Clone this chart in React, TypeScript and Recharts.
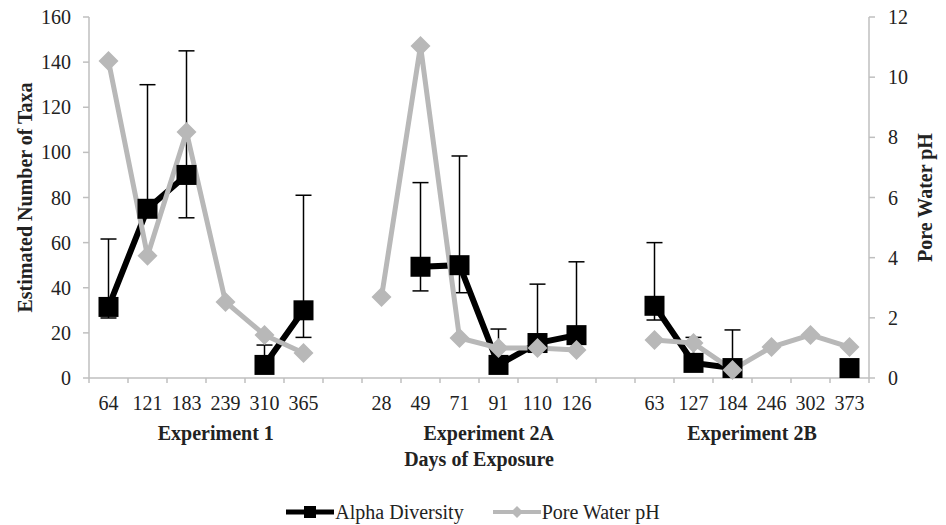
import { ComposedChart, Line, XAxis, YAxis, ErrorBar, Legend } from 'recharts';

// category labels (days of exposure); '' = spacer between experiments
const days = ['64', '121', '183', '239', '310', '365', '', '28', '49', '71', '91', '110', '126', '', '63', '127', '184', '246', '302', '373'];

// estimated number of taxa (left axis)
const alphaDiversity = [31.5, 75, 90, null, 5.8, 30, null, null, 49.3, 50, 5.8, 15.5, 19, null, 32, 6.7, 4.4, null, null, 4.4];
const alphaErrLow = [4.9, 3, 19, null, 3, 12, null, null, 10.7, 12.2, 3, 3, 3, null, 6.3, 3, 3, null, null, 0];
const alphaErrHigh = [30.1, 55, 55, null, 8.8, 51, null, null, 37.3, 48.4, 15.9, 26.1, 32.5, null, 28, 11.3, 16.9, null, null, 0];

// pore water pH (right axis)
const poreWaterPH = [10.54, 4.06, 8.18, 2.53, 1.43, 0.83, null, 2.69, 11.04, 1.33, 1.0, 1.0, 0.93, null, 1.26, 1.16, 0.27, 1.03, 1.43, 1.03];

const groups = [
  { label: 'Experiment 1', first: 0, last: 5 },
  { label: 'Experiment 2A', first: 7, last: 12 },
  { label: 'Experiment 2B', first: 14, last: 19 },
];

const leftTicks = [0, 20, 40, 60, 80, 100, 120, 140, 160];
const rightTicks = [0, 2, 4, 6, 8, 10, 12];

const W = 946;
const H = 525;
const LEFT_W = 89;
const RIGHT_W = 77;
const XAXIS_H = 117;
const LEGEND_H = 30;
const BAND = (W - LEFT_W - RIGHT_W) / days.length;

const FONT = '"Liberation Serif", "Times New Roman", serif';
const AXIS = '#bfbfbf';
const TEXT = '#222';
const GRAY = '#b8b8b8';

const data = days.map((day, i) => ({
  idx: i,
  day,
  alpha: alphaDiversity[i],
  alphaErr: alphaDiversity[i] == null ? null : [alphaErrLow[i], alphaErrHigh[i]],
  ph: poreWaterPH[i],
}));

// eslint-disable-next-line @typescript-eslint/no-explicit-any
function DayTick({ x, y, payload }: any) {
  const i = Number(payload.value);
  const grp = groups.find(g => g.first === i);
  const last = i === days.length - 1;
  // group label sits over its categories plus half of a trailing spacer
  let span = 0;
  if (grp) span = grp.last - grp.first + (days[grp.last + 1] === '' ? 0.5 : 0);
  return (
    <g>
      <line x1={x - BAND / 2} x2={x - BAND / 2} y1={y - 8} y2={y - 3} stroke={AXIS} strokeWidth={1.5} />
      {last && <line x1={x + BAND / 2} x2={x + BAND / 2} y1={y - 8} y2={y - 3} stroke={AXIS} strokeWidth={1.5} />}
      <text x={x} y={y + 24} textAnchor="middle" fontSize={20} fontFamily={FONT} fill={TEXT}>
        {days[i]}
      </text>
      {grp && (
        <text
          x={x + (span * BAND) / 2}
          y={y + 54}
          textAnchor="middle"
          fontSize={20}
          fontWeight="bold"
          fontFamily={FONT}
          fill={TEXT}
        >
          {grp.label}
        </text>
      )}
    </g>
  );
}

// eslint-disable-next-line @typescript-eslint/no-explicit-any
function SquareDot({ cx, cy, value }: any) {
  if (value == null || cx == null || cy == null) return null;
  return <rect x={cx - 10} y={cy - 10} width={20} height={20} fill="#000" />;
}

// eslint-disable-next-line @typescript-eslint/no-explicit-any
function DiamondDot({ cx, cy, value }: any) {
  if (value == null || cx == null || cy == null) return null;
  return <polygon points={`${cx},${cy - 10} ${cx + 10},${cy} ${cx},${cy + 10} ${cx - 10},${cy}`} fill={GRAY} />;
}

function sideLabel(text: string, dx: number) {
  // eslint-disable-next-line @typescript-eslint/no-explicit-any
  return (props: any) => {
    const { viewBox } = props;
    const cx = viewBox.x + dx;
    const cy = viewBox.y + viewBox.height / 2;
    return (
      <text
        x={cx}
        y={cy}
        transform={`rotate(-90 ${cx} ${cy})`}
        textAnchor="middle"
        dominantBaseline="central"
        fontSize={20}
        fontWeight="bold"
        fontFamily={FONT}
        fill={TEXT}
      >
        {text}
      </text>
    );
  };
}

function LegendContent() {
  return (
    <div
      style={{
        height: LEGEND_H,
        display: 'flex',
        justifyContent: 'center',
        alignItems: 'center',
        fontFamily: FONT,
        fontSize: 20,
        color: TEXT,
        paddingTop: 4,
        boxSizing: 'border-box',
      }}
    >
      <svg width={48} height={16}>
        <line x1={0} x2={48} y1={8} y2={8} stroke="#000" strokeWidth={5} />
        <rect x={18} y={2} width={12} height={12} fill="#000" />
      </svg>
      <span style={{ marginLeft: 1, marginRight: 29 }}>Alpha Diversity</span>
      <svg width={48} height={16}>
        <line x1={0} x2={48} y1={8} y2={8} stroke={GRAY} strokeWidth={4} />
        <polygon points="24,2 30,8 24,14 18,8" fill={GRAY} />
      </svg>
      <span style={{ marginLeft: 1 }}>Pore Water pH</span>
    </div>
  );
}

export default function App() {
  return (
    <div style={{ position: 'absolute', left: 0, top: 0, width: W, height: H, fontFamily: FONT, background: '#fff' }}>
      <ComposedChart width={W} height={H} data={data} margin={{ top: 17, right: 0, bottom: 0, left: 0 }}>
        <XAxis
          dataKey="idx"
          type="category"
          padding={{ left: BAND / 2, right: BAND / 2 }}
          interval={0}
          height={XAXIS_H}
          stroke={AXIS}
          strokeWidth={1.5}
          tickLine={false}
          tick={<DayTick />}
          label={{
            // eslint-disable-next-line @typescript-eslint/no-explicit-any
            content: (props: any) => (
              <text
                x={props.viewBox.x + props.viewBox.width / 2}
                y={props.viewBox.y + 88}
                textAnchor="middle"
                fontSize={20}
                fontWeight="bold"
                fontFamily={FONT}
                fill={TEXT}
              >
                Days of Exposure
              </text>
            ),
          }}
        />
        <YAxis
          yAxisId="left"
          width={LEFT_W}
          domain={[0, 160]}
          ticks={leftTicks}
          stroke={AXIS}
          strokeWidth={1.5}
          tickSize={6}
          tickMargin={12}
          tick={{ fontSize: 20, fill: TEXT, fontFamily: FONT }}
          label={{ content: sideLabel('Estimated Number of Taxa', 25) }}
        />
        <YAxis
          yAxisId="right"
          orientation="right"
          width={RIGHT_W}
          domain={[0, 12]}
          ticks={rightTicks}
          stroke={AXIS}
          strokeWidth={1.5}
          tickSize={6}
          tickMargin={13}
          tick={{ fontSize: 20, fill: TEXT, fontFamily: FONT }}
          label={{ content: sideLabel('Pore Water pH', 56) }}
        />
        <Legend verticalAlign="bottom" height={LEGEND_H} content={<LegendContent />} />
        <Line
          yAxisId="left"
          type="linear"
          dataKey="alpha"
          name="Alpha Diversity"
          stroke="#000"
          strokeWidth={6}
          dot={<SquareDot />}
          activeDot={false}
          connectNulls={false}
          isAnimationActive={false}
        >
          <ErrorBar dataKey="alphaErr" direction="y" width={8} stroke="#000" strokeWidth={1.5} />
        </Line>
        <Line
          yAxisId="right"
          type="linear"
          dataKey="ph"
          name="Pore Water pH"
          stroke={GRAY}
          strokeWidth={5}
          dot={<DiamondDot />}
          activeDot={false}
          connectNulls={false}
          isAnimationActive={false}
        />
      </ComposedChart>
    </div>
  );
}
